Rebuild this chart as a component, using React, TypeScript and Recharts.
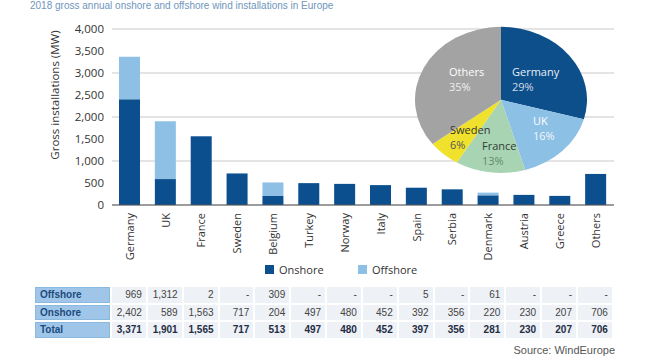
import React from "react";
import {
  BarChart,
  Bar,
  XAxis,
  YAxis,
  CartesianGrid,
  Label,
  PieChart,
  Pie,
  Cell,
} from "recharts";

const countries = [
  "Germany", "UK", "France", "Sweden", "Belgium", "Turkey", "Norway",
  "Italy", "Spain", "Serbia", "Denmark", "Austria", "Greece", "Others",
];
const onshore = [2402, 589, 1563, 717, 204, 497, 480, 452, 392, 356, 220, 230, 207, 706];
const offshore = [969, 1312, 2, 0, 309, 0, 0, 0, 5, 0, 61, 0, 0, 0];
const yTicks = [0, 500, 1000, 1500, 2000, 2500, 3000, 3500, 4000];

const shareNames = ["Germany", "UK", "France", "Sweden", "Others"];
const shareValues = [29, 16, 13, 6, 35];

const ONSHORE = "#0b4f8f";
const OFFSHORE = "#8ec0e5";
const pieColors = ["#0d4f8b", "#8dc0e5", "#a9d4b3", "#f0e22c", "#a3a3a3"];
// label look + placement for the pie (layout only)
const pieLabelStyle = [
  { left: 512, top: 64, name: "#e9eef4", pct: "#d3dce8" },
  { left: 533, top: 113, name: "#ffffff", pct: "#f2f6fa" },
  { left: 482, top: 138, name: "#2f3d35", pct: "#5e8a6c" },
  { left: 450, top: 122, name: "#333333", pct: "#555555" },
  { left: 449, top: 64, name: "#ffffff", pct: "#eeeeee" },
];

const barData = countries.map((c, i) => ({
  name: c,
  onshore: onshore[i],
  offshore: offshore[i],
}));
const pieData = shareNames.map((n, i) => ({ name: n, value: shareValues[i] }));

const fmt = (v: number) => v.toLocaleString("en-US");

const XTick = (props: any) => {
  const { x, y, payload } = props;
  return (
    <text
      x={x}
      y={y}
      transform={`rotate(-90 ${x} ${y})`}
      textAnchor="end"
      dy="0.35em"
      fontSize={11}
      fill="#333"
    >
      {payload.value}
    </text>
  );
};

const tableRows = [
  { label: "Offshore", values: offshore, bold: false },
  { label: "Onshore", values: onshore, bold: false },
  { label: "Total", values: onshore.map((v, i) => v + offshore[i]), bold: true },
];

export default function App() {
  return (
    <div
      style={{
        position: "absolute",
        left: 0,
        top: 0,
        width: 650,
        height: 360,
        background: "#fff",
        fontFamily: "'Open Sans', sans-serif",
        overflow: "hidden",
      }}
    >
      <div
        style={{
          position: "absolute",
          left: 30,
          top: 0,
          fontFamily: "'Liberation Sans', sans-serif",
          fontSize: 10,
          lineHeight: "12px",
          color: "#7095bc",
          whiteSpace: "nowrap",
        }}
      >
        2018 gross annual onshore and offshore wind installations in Europe
      </div>

      <div style={{ position: "absolute", left: 0, top: 0 }}>
        <BarChart
          width={650}
          height={265}
          data={barData}
          margin={{ top: 29, right: 36, left: 0, bottom: 0 }}
          barSize={21}
        >
          <CartesianGrid vertical={false} stroke="#c9c9c9" />
          <XAxis
            dataKey="name"
            interval={0}
            height={60}
            tickLine={false}
            tick={<XTick />}
            axisLine={{ stroke: "#555" }}
          />
          <YAxis
            width={112}
            domain={[0, 4000]}
            ticks={yTicks}
            tickFormatter={fmt}
            axisLine={false}
            tickLine={false}
            tick={{ fontSize: 11.5, fill: "#333" }}
          >
            <Label
              content={() => (
                <text
                  x={55}
                  y={95}
                  transform="rotate(-90 55 95)"
                  textAnchor="middle"
                  dy="0.35em"
                  fontSize={11.5}
                  fill="#333"
                >
                  Gross installations (MW)
                </text>
              )}
            />
          </YAxis>
          <Bar dataKey="onshore" stackId="a" fill={ONSHORE} isAnimationActive={false} />
          <Bar dataKey="offshore" stackId="a" fill={OFFSHORE} isAnimationActive={false} />
        </BarChart>
      </div>

      <div
        style={{
          position: "absolute",
          left: 414,
          top: 26,
          width: 174,
          height: 174,
          transform: "scaleY(0.849)",
          transformOrigin: "top",
        }}
      >
        <PieChart width={174} height={174} margin={{ top: 0, right: 0, bottom: 0, left: 0 }}>
          <Pie
            data={pieData}
            dataKey="value"
            cx={87}
            cy={87}
            outerRadius={86}
            startAngle={90}
            endAngle={-270}
            stroke="none"
            isAnimationActive={false}
          >
            {pieData.map((d, i) => (
              <Cell key={d.name} fill={pieColors[i]} />
            ))}
          </Pie>
        </PieChart>
      </div>
      {pieData.map((d, i) => (
        <div
          key={d.name}
          style={{
            position: "absolute",
            left: pieLabelStyle[i].left,
            top: pieLabelStyle[i].top,
            fontSize: 11,
            lineHeight: "15px",
            whiteSpace: "nowrap",
          }}
        >
          <div style={{ color: pieLabelStyle[i].name }}>{d.name}</div>
          <div style={{ color: pieLabelStyle[i].pct }}>{d.value}%</div>
        </div>
      ))}

      {[
        { label: "Onshore", color: ONSHORE, left: 265 },
        { label: "Offshore", color: OFFSHORE, left: 358 },
      ].map((l) => (
        <div
          key={l.label}
          style={{
            position: "absolute",
            left: l.left,
            top: 262,
            height: 14,
            display: "flex",
            alignItems: "center",
            fontSize: 11,
            color: "#333",
          }}
        >
          <span
            style={{ width: 9, height: 9, background: l.color, marginRight: 5, display: "inline-block" }}
          />
          {l.label}
        </div>
      ))}

      <table
        style={{
          position: "absolute",
          left: 33,
          top: 285,
          borderCollapse: "separate",
          borderSpacing: 2,
          tableLayout: "fixed",
          fontFamily: "'Liberation Sans', sans-serif",
          fontSize: 10,
        }}
      >
        <colgroup>
          <col style={{ width: 75 }} />
          {countries.map((c) => (
            <col key={c} style={{ width: 33.85 }} />
          ))}
        </colgroup>
        <tbody>
          {tableRows.map((r) => (
            <tr key={r.label} style={{ height: 15.5 }}>
              <td
                style={{
                  background: "#9fc6e8",
                  color: "#1c4c7e",
                  fontWeight: "bold",
                  padding: "0 4px",
                  boxSizing: "border-box",
                  border: "1px solid #8ab9e0",
                }}
              >
                {r.label}
              </td>
              {r.values.map((v, i) => (
                <td
                  key={i}
                  style={{
                    background: "#eef1f5",
                    color: r.bold ? "#1f2d45" : "#444",
                    fontWeight: r.bold ? "bold" : "normal",
                    textAlign: "right",
                    padding: "0 4px 0 0",
                  }}
                >
                  {v === 0 ? "-" : fmt(v)}
                </td>
              ))}
            </tr>
          ))}
        </tbody>
      </table>

      <div
        style={{
          position: "absolute",
          right: 35,
          top: 344,
          fontFamily: "'Liberation Sans', sans-serif",
          fontSize: 11,
          color: "#555",
          whiteSpace: "nowrap",
        }}
      >
        Source: WindEurope
      </div>
    </div>
  );
}
